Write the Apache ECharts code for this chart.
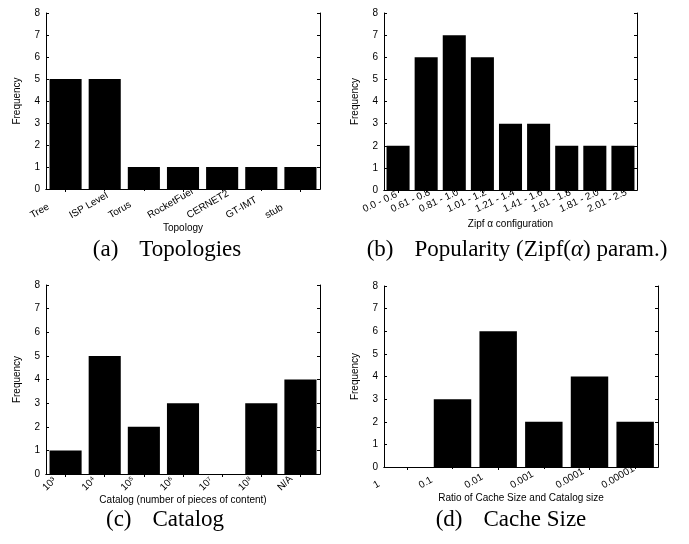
<!DOCTYPE html>
<html>
<head>
<meta charset="utf-8">
<script src="https://cdn.jsdelivr.net/npm/echarts@6/dist/echarts.min.js"></script>
<style>
html,body{margin:0;padding:0;background:#fff;}
#chart{width:689px;height:544px;}
</style>
</head>
<body>
<div id="chart"></div>
<script>
// ---- data ----
const topoCats = ['Tree', 'ISP Level', 'Torus', 'RocketFuel', 'CERNET2', 'GT-IMT', 'stub'];
const topoFreq = [5, 5, 1, 1, 1, 1, 1];
const zipfCats = ['0.0 - 0.6', '0.61 - 0.8', '0.81 - 1.0', '1.01 - 1.2', '1.21 - 1.4', '1.41 - 1.6', '1.61 - 1.8', '1.81 - 2.0', '2.01 - 2.5'];
const zipfFreq = [2, 6, 7, 6, 3, 3, 2, 2, 2];
const catalogCats = ['10^3', '10^4', '10^5', '10^6', '10^7', '10^8', 'N/A'];
const catalogFreq = [1, 5, 2, 3, 0, 3, 4];
const cacheCats = ['1', '0.1', '0.01', '0.001', '0.0001', '0.00001'];
const cacheFreq = [0, 3, 6, 2, 4, 2];
const yMin = 0, yMax = 8, yStep = 1;
const captions = [
  ['(a)', 'Topologies'],
  ['(b)', 'Popularity (Zipf(', '\u03b1', ') param.)'],
  ['(c)', 'Catalog'],
  ['(d)', 'Cache Size']
];

const SANS = "'Liberation Sans', Arial, Helvetica, sans-serif";
const SERIF = "'Liberation Serif', 'Times New Roman', serif";
const SUP = {'0': '\u2070', '1': '\u00b9', '2': '\u00b2', '3': '\u00b3', '4': '\u2074',
             '5': '\u2075', '6': '\u2076', '7': '\u2077', '8': '\u2078', '9': '\u2079'};

const chart = echarts.init(document.getElementById('chart'), null, {renderer: 'canvas'});

const panels = [
  {cats: topoCats, vals: topoFreq, grid: {left: 46, top: 13, width: 274, height: 176},
   xName: 'Topology', xGap: 29, rot: 30, pad: -37, margin: 13},
  {cats: zipfCats, vals: zipfFreq, grid: {left: 384, top: 13, width: 253, height: 177},
   xName: 'Zipf \u03b1 configuration', xGap: 29, rot: 25, pad: -36, margin: 9},
  {cats: catalogCats, vals: catalogFreq, grid: {left: 46, top: 285, width: 274, height: 189},
   xName: 'Catalog (number of pieces of content)', xGap: 15, rot: 45, pad: -25, margin: 1, sup: true},
  {cats: cacheCats, vals: cacheFreq, grid: {left: 384, top: 286, width: 274, height: 181},
   xName: 'Ratio of Cache Size and Catalog size', xGap: 25, rot: 30, pad: -35, margin: 6}
];

const grids = [], xAxes = [], yAxes = [], series = [];
const lineStyle = {color: '#000', width: 1};
panels.forEach((p, i) => {
  grids.push(Object.assign({containLabel: false}, p.grid));
  const labelCfg = {
    interval: 0, rotate: p.rot, align: 'left', verticalAlign: 'bottom',
    padding: [0, 0, 0, p.pad], margin: p.margin,
    color: '#000', fontSize: 10, fontFamily: SANS
  };
  if (p.sup) {
    labelCfg.formatter = v => v.indexOf('10^') === 0
      ? '10' + v.slice(3).split('').map(d => SUP[d] || d).join('')
      : v;
  }
  xAxes.push({
    gridIndex: i, type: 'category', data: p.cats, position: 'bottom',
    axisLine: {show: true, lineStyle: lineStyle},
    axisTick: {show: true, alignWithLabel: true, length: 2, lineStyle: lineStyle},
    axisLabel: labelCfg,
    name: p.xName, nameLocation: 'middle', nameGap: p.xGap,
    nameTextStyle: {color: '#000', fontSize: 10, fontFamily: SANS},
    splitLine: {show: false}
  });
  xAxes.push({
    gridIndex: i, type: 'category', data: p.cats, position: 'top',
    axisLine: {show: true, lineStyle: lineStyle},
    axisTick: {show: true, alignWithLabel: true, inside: true, length: 3, lineStyle: lineStyle},
    axisLabel: {show: false}, splitLine: {show: false}
  });
  yAxes.push({
    gridIndex: i, type: 'value', min: yMin, max: yMax, interval: yStep, position: 'left',
    axisLine: {show: true, lineStyle: lineStyle},
    axisTick: {show: true, inside: true, length: 3, lineStyle: lineStyle},
    axisLabel: {color: '#000', fontSize: 10, fontFamily: SANS, margin: 6},
    splitLine: {show: false},
    name: 'Frequency', nameLocation: 'middle', nameGap: 24,
    nameTextStyle: {color: '#000', fontSize: 10, fontFamily: SANS}
  });
  yAxes.push({
    gridIndex: i, type: 'value', min: yMin, max: yMax, interval: yStep, position: 'right',
    axisLine: {show: true, lineStyle: lineStyle},
    axisTick: {show: true, inside: true, length: 3, lineStyle: lineStyle},
    axisLabel: {show: false}, splitLine: {show: false}
  });
  series.push({
    type: 'bar', xAxisIndex: i * 2, yAxisIndex: i * 2, data: p.vals,
    barCategoryGap: '18%', itemStyle: {color: '#000'}, silent: true
  });
});

const capStyle = {color: '#000', fontSize: 23, fontFamily: SERIF, fontWeight: 'normal'};
const capPos = [[167, 238], [517, 238], [165, 508], [511, 508]];
const titles = captions.map((c, k) => {
  let txt = '{n|' + c[0] + '}{gap|}{n|' + c[1] + '}';
  if (c.length > 2) txt += '{i|' + c[2] + '}{n|' + c[3] + '}';
  return {
    text: txt, left: capPos[k][0], top: capPos[k][1], textAlign: 'center', padding: 0,
    textStyle: Object.assign({}, capStyle, {
      rich: {
        n: Object.assign({}, capStyle),
        gap: {width: 21, height: 1},
        i: Object.assign({}, capStyle, {fontStyle: 'italic'})
      }
    })
  };
});

chart.setOption({
  animation: false,
  backgroundColor: '#fff',
  title: titles,
  grid: grids,
  xAxis: xAxes,
  yAxis: yAxes,
  series: series
});
</script>
</body>
</html>
